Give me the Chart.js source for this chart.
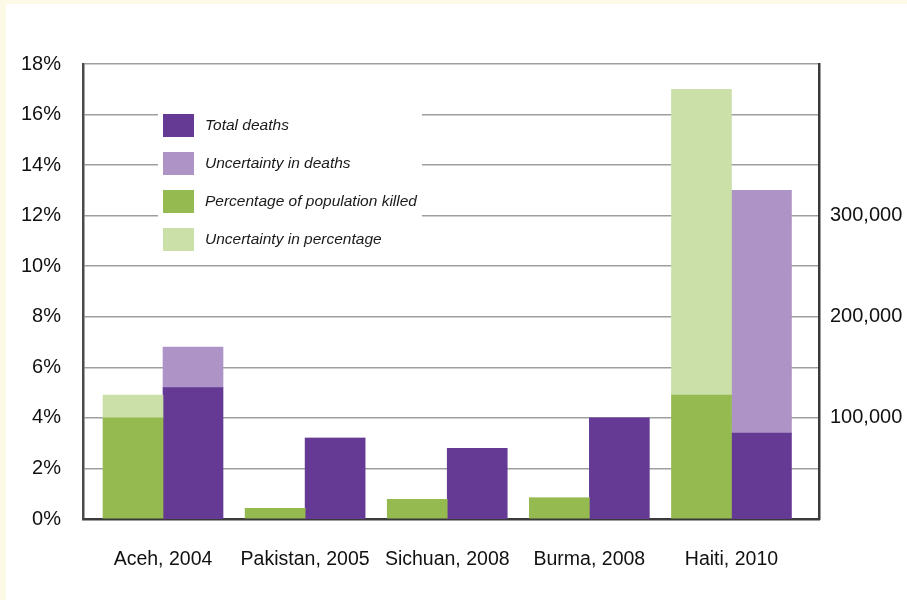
<!DOCTYPE html>
<html>
<head>
<meta charset="utf-8">
<script src="https://cdn.jsdelivr.net/npm/chart.js@4.4.1/dist/chart.umd.min.js"></script>
<style>
  html, body { margin: 0; padding: 0; background: #fdf9e7; }
  #wrap { position: absolute; left: 6px; top: 4px; width: 901px; height: 596px; background: #fff; }
</style>
</head>
<body>
<div id="wrap"><canvas id="chart" width="901" height="596"></canvas></div>
<script>
const categories = ["Aceh, 2004", "Pakistan, 2005", "Sichuan, 2008", "Burma, 2008", "Haiti, 2010"];
const pctKilled = [4.0, 0.42, 0.78, 0.84, 4.9];
const pctUncertainty = [0.9, 0, 0, 0, 12.1];
const totalDeaths = [130000, 80000, 70000, 100000, 85000];
const deathsUncertainty = [40000, 0, 0, 0, 240000];
const pctTicks = [0, 2, 4, 6, 8, 10, 12, 14, 16, 18];
const deathTicks = [100000, 200000, 300000];

const FONT = "'Liberation Sans', Helvetica, Arial, sans-serif";

// bars sit on a linear x scale so the group spacing can match the original
const toPoints = (arr) => arr.map((v, i) => ({ x: i, y: v }));

// draws the legend on a white card that hides the grid lines behind it
const legendBox = {
  id: "legendBox",
  afterDraw(chart) {
    const ctx = chart.ctx;
    ctx.save();
    ctx.fillStyle = "#ffffff";
    ctx.fillRect(152, 96, 264, 152);
    ctx.font = "italic 15.5px " + FONT;
    ctx.textBaseline = "middle";
    chart.data.datasets.forEach((ds, i) => {
      const y = 110 + i * 38;
      ctx.fillStyle = ds.backgroundColor;
      ctx.fillRect(157, y, 31, 23);
      ctx.fillStyle = "#1a1a1a";
      ctx.fillText(ds.label, 199, y + 12);
    });
    ctx.restore();
  },
};

const ctx = document.getElementById("chart").getContext("2d");
const myChart = new Chart(ctx, {
  type: "bar",
  data: {
    datasets: [
      {
        label: "Total deaths",
        data: toPoints(totalDeaths),
        backgroundColor: "#643a94",
        yAxisID: "y1",
        stack: "deaths",
        order: 1,
      },
      {
        label: "Uncertainty in deaths",
        data: toPoints(deathsUncertainty),
        backgroundColor: "#ae94c6",
        yAxisID: "y1",
        stack: "deaths",
        order: 1,
      },
      {
        label: "Percentage of population killed",
        data: toPoints(pctKilled),
        backgroundColor: "#94ba50",
        yAxisID: "y",
        stack: "pct",
        order: 0,
      },
      {
        label: "Uncertainty in percentage",
        data: toPoints(pctUncertainty),
        backgroundColor: "#cbe0a8",
        yAxisID: "y",
        stack: "pct",
        order: 0,
      },
    ],
  },
  options: {
    responsive: false,
    animation: false,
    barThickness: 60,
    layout: { padding: { top: 60, left: 0, right: 0, bottom: 0 } },
    plugins: {
      legend: { display: false },
      tooltip: { enabled: false },
    },
    scales: {
      x: {
        type: "linear",
        offset: false,
        min: -0.563,
        max: 4.616,
        afterBuildTicks: (scale) => {
          scale.ticks = categories.map((c, i) => ({ value: i }));
        },
        afterFit: (scale) => {
          scale.height = 81;
        },
        grid: { display: false, drawTicks: false, offset: false },
        border: { display: true, color: "#3a3a3a", width: 2.5 },
        ticks: {
          padding: 29,
          maxRotation: 0,
          autoSkip: false,
          color: "#111",
          font: { family: FONT, size: 19.5 },
          callback: (v) => categories[v],
        },
      },
      y: {
        position: "left",
        min: 0,
        max: 18,
        z: 1,
        afterBuildTicks: (scale) => {
          scale.ticks = pctTicks.map((v) => ({ value: v }));
        },
        afterFit: (scale) => {
          scale.width = 77;
        },
        grid: { color: "rgba(0,0,0,0.38)", lineWidth: 1.5, drawTicks: false },
        border: { display: true, color: "#4a4a4a", width: 2.5 },
        ticks: {
          padding: 22,
          color: "#111",
          font: { family: FONT, size: 20 },
          callback: (v) => v + "%",
        },
      },
      y1: {
        position: "right",
        min: 0,
        max: 450000,
        afterBuildTicks: (scale) => {
          scale.ticks = deathTicks.map((v) => ({ value: v }));
        },
        afterFit: (scale) => {
          scale.width = 88;
        },
        grid: { display: false, drawTicks: false },
        border: { display: true, color: "#3a3a3a", width: 2.5 },
        ticks: {
          padding: 11,
          color: "#111",
          font: { family: FONT, size: 20 },
          callback: (v) => v.toLocaleString("en-US"),
        },
      },
    },
  },
  plugins: [legendBox],
});
</script>
</body>
</html>
